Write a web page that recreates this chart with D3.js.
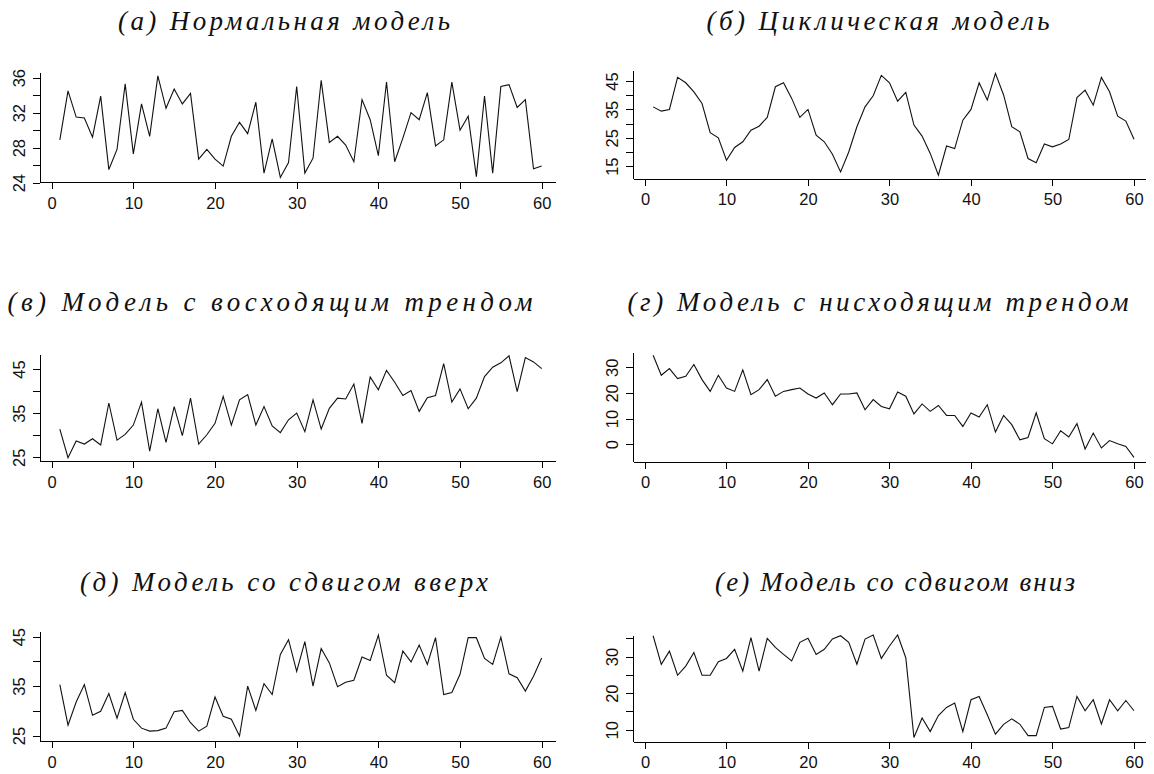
<!DOCTYPE html>
<html lang="ru">
<head>
<meta charset="utf-8">
<script src="https://cdn.jsdelivr.net/npm/d3@7"></script>
<style>
  html, body { margin: 0; padding: 0; background: #fff; }
  svg { display: block; }
  .title { font-family: "Liberation Serif", "DejaVu Serif", serif; font-style: italic; font-size: 27px; fill: #111; }
  .axis text { font-family: "Liberation Sans", Arial, sans-serif; font-size: 16.5px; fill: #111; }
  .axis path, .axis line { stroke: #000; stroke-width: 1; shape-rendering: crispEdges; }
  .series { fill: none; stroke: #111; stroke-width: 1.1; stroke-linejoin: miter; }
</style>
</head>
<body>
<svg id="chart" width="1154" height="774"></svg>
<script>
// Sixty observations per model, t = 1..60
const timeIndex = d3.range(1, 61);
const xTickValues = [0, 10, 20, 30, 40, 50, 60];

const normalModel = [28.9, 34.5, 31.5, 31.4, 29.2, 33.9, 25.5, 27.8, 35.3, 27.3,
  33.0, 29.3, 36.2, 32.5, 34.7, 33.0, 34.2, 26.7, 27.8, 26.7,
  25.9, 29.3, 30.9, 29.6, 33.2, 25.1, 29.0, 24.6, 26.3, 35.0,
  25.1, 26.8, 35.7, 28.6, 29.3, 28.3, 26.4, 33.5, 31.2, 27.1,
  35.5, 26.4, 29.1, 32.0, 31.2, 34.3, 28.2, 28.9, 35.5, 30.0,
  31.6, 24.7, 33.9, 25.1, 35.0, 35.2, 32.6, 33.5, 25.6, 25.9];

const cyclicModel = [35.9, 34.4, 35.0, 46.3, 44.4, 41.2, 37.1, 26.8, 25.0, 17.1,
  21.6, 23.6, 27.7, 29.1, 32.2, 43.0, 44.4, 38.9, 32.2, 35.0,
  25.9, 23.6, 19.2, 13.0, 20.0, 28.9, 35.9, 39.8, 47.0, 44.4,
  37.9, 41.0, 29.5, 25.6, 19.5, 11.8, 22.1, 21.2, 31.2, 35.0,
  44.4, 38.3, 47.7, 40.1, 28.9, 27.1, 17.7, 16.2, 22.8, 21.8,
  22.8, 24.4, 39.2, 41.8, 36.5, 46.3, 41.2, 32.6, 30.9, 24.5];

const upwardTrendModel = [31.4, 24.9, 28.7, 28.0, 29.2, 27.8, 37.3, 28.9, 30.2, 32.3,
  37.5, 26.4, 36.0, 28.4, 36.5, 29.9, 38.4, 28.0, 30.1, 32.7,
  38.8, 32.3, 38.0, 39.2, 32.3, 36.5, 32.1, 30.6, 33.5, 35.0,
  30.8, 38.0, 31.4, 36.1, 38.4, 38.2, 41.6, 32.7, 43.2, 40.3,
  44.7, 42.0, 39.0, 40.1, 35.4, 38.5, 39.0, 46.2, 37.5, 40.5,
  36.0, 38.4, 43.3, 45.4, 46.4, 48.0, 39.9, 47.6, 46.6, 45.1];

const downwardTrendModel = [34.7, 26.9, 29.5, 25.6, 26.5, 31.1, 25.2, 20.6, 26.9, 21.9,
  20.6, 29.0, 19.3, 21.3, 25.2, 18.7, 20.6, 21.3, 21.9, 19.6,
  18.0, 20.0, 15.4, 19.6, 19.6, 20.0, 13.4, 17.4, 14.7, 13.8,
  20.4, 18.7, 11.8, 15.7, 12.8, 15.1, 11.2, 11.2, 6.9, 12.2,
  10.6, 15.4, 4.7, 11.2, 7.6, 1.7, 2.6, 12.2, 2.1, 0.1,
  5.2, 2.8, 8.0, -1.9, 4.3, -1.5, 1.4, 0.1, -0.9, -5.2];

const upwardShiftModel = [35.3, 27.1, 31.8, 35.3, 29.1, 29.9, 33.5, 28.5, 33.7, 28.3,
  26.5, 25.9, 26.0, 26.5, 29.8, 30.1, 27.6, 25.9, 26.9, 32.8,
  28.9, 28.3, 24.9, 35.0, 30.1, 35.5, 33.3, 41.4, 44.4, 38.0,
  44.0, 35.0, 42.6, 39.7, 34.9, 35.8, 36.2, 40.9, 40.2, 45.3,
  37.2, 35.7, 42.1, 39.9, 43.3, 39.4, 44.8, 33.3, 33.7, 37.4,
  44.8, 44.8, 40.6, 39.4, 44.9, 37.5, 36.7, 34.0, 37.0, 40.7];

const downwardShiftModel = [35.7, 27.9, 31.5, 24.9, 27.4, 31.1, 24.9, 24.9, 28.6, 29.5,
  32.0, 26.0, 35.2, 26.0, 35.0, 32.5, 30.6, 28.8, 33.9, 35.0,
  30.6, 32.0, 34.8, 35.7, 33.9, 27.9, 34.8, 35.9, 29.5, 32.9,
  35.9, 29.7, 7.9, 13.2, 9.5, 13.9, 16.1, 17.3, 9.5, 18.2,
  19.1, 14.1, 8.8, 11.5, 13.0, 11.5, 8.4, 8.4, 16.1, 16.4,
  10.2, 10.6, 19.1, 15.2, 18.2, 11.6, 18.2, 15.2, 18.0, 15.2];

// Y ticks (every tick) and the subset that carries a label
const normalTicks = [24, 26, 28, 30, 32, 34, 36];
const normalLabels = [24, 28, 32, 36];
const cyclicTicks = [15, 20, 25, 30, 35, 40, 45];
const cyclicLabels = [15, 25, 35, 45];
const upwardTrendTicks = [25, 30, 35, 40, 45];
const upwardTrendLabels = [25, 35, 45];
const downwardTrendTicks = [0, 10, 20, 30];
const downwardTrendLabels = [0, 10, 20, 30];
const upwardShiftTicks = [25, 30, 35, 40, 45];
const upwardShiftLabels = [25, 35, 45];
const downwardShiftTicks = [10, 15, 20, 25, 30, 35];
const downwardShiftLabels = [10, 20, 30];

const panelTitles = [
  "(а) Нормальная модель",
  "(б) Циклическая модель",
  "(в) Модель с восходящим трендом",
  "(г) Модель с нисходящим трендом",
  "(д) Модель со сдвигом вверх",
  "(е) Модель со сдвигом вниз"
];

// Panel geometry: plot frame in pixels, the value ranges the frame spans,
// and where each caption sits (centre, baseline, set width)
const panels = [
  { title: panelTitles[0], values: normalModel, ticks: normalTicks, labels: normalLabels,
    box: { left: 40, right: 555, top: 72, bottom: 182 }, xDomain: [-1.43, 61.63], yDomain: [24.08, 36.65],
    titleX: 284, titleY: 30, titleWidth: 332 },
  { title: panelTitles[1], values: cyclicModel, ticks: cyclicTicks, labels: cyclicLabels,
    box: { left: 633, right: 1145, top: 70, bottom: 178.5 }, xDomain: [-1.47, 61.35], yDomain: [10.66, 48.9],
    titleX: 878, titleY: 30, titleWidth: 343 },
  { title: panelTitles[2], values: upwardTrendModel, ticks: upwardTrendTicks, labels: upwardTrendLabels,
    box: { left: 40, right: 555, top: 354, bottom: 461 }, xDomain: [-1.43, 61.63], yDomain: [24.16, 48.4],
    titleX: 270, titleY: 311, titleWidth: 525 },
  { title: panelTitles[3], values: downwardTrendModel, ticks: downwardTrendTicks, labels: downwardTrendLabels,
    box: { left: 633, right: 1145, top: 352, bottom: 461.5 }, xDomain: [-1.47, 61.35], yDomain: [-6.8, 36.0],
    titleX: 878, titleY: 311, titleWidth: 501 },
  { title: panelTitles[4], values: upwardShiftModel, ticks: upwardShiftTicks, labels: upwardShiftLabels,
    box: { left: 40, right: 555, top: 631, bottom: 741 }, xDomain: [-1.43, 61.63], yDomain: [23.9, 46.15],
    titleX: 284, titleY: 591, titleWidth: 408 },
  { title: panelTitles[5], values: downwardShiftModel, ticks: downwardShiftTicks, labels: downwardShiftLabels,
    box: { left: 633, right: 1145, top: 635, bottom: 741.5 }, xDomain: [-1.47, 61.35], yDomain: [6.8, 35.9],
    titleX: 895, titleY: 591, titleWidth: 360 }
];

const svg = d3.select("#chart");

panels.forEach(p => {
  const g = svg.append("g");

  const x = d3.scaleLinear().domain(p.xDomain).range([p.box.left, p.box.right]);
  const y = d3.scaleLinear().domain(p.yDomain).range([p.box.bottom, p.box.top]);

  // Caption above the panel
  g.append("text")
    .attr("class", "title")
    .attr("x", p.titleX)
    .attr("y", p.titleY)
    .attr("text-anchor", "middle")
    .attr("textLength", p.titleWidth)
    .attr("lengthAdjust", "spacing")
    .text(p.title);

  // Bottom axis
  const xAxis = d3.axisBottom(x)
    .tickValues(xTickValues)
    .tickSize(7)
    .tickSizeOuter(0)
    .tickPadding(8)
    .tickFormat(d3.format("d"));
  g.append("g")
    .attr("class", "axis")
    .attr("transform", `translate(0,${p.box.bottom})`)
    .call(xAxis);

  // Left axis with rotated labels
  const labelSet = new Set(p.labels);
  const yAxis = d3.axisLeft(y)
    .tickValues(p.ticks)
    .tickSize(7)
    .tickSizeOuter(0)
    .tickFormat(d => labelSet.has(d) ? d3.format("d")(d) : "");
  const yg = g.append("g")
    .attr("class", "axis")
    .attr("transform", `translate(${p.box.left},0)`)
    .call(yAxis);
  yg.selectAll(".tick text")
    .attr("transform", "rotate(-90)")
    .attr("x", 0)
    .attr("y", -15.5)
    .attr("dy", 0)
    .attr("text-anchor", "middle");

  // Series line
  const line = d3.line()
    .x((d, i) => x(timeIndex[i]))
    .y(d => y(d));
  g.append("path")
    .attr("class", "series")
    .attr("d", line(p.values));
});
</script>
</body>
</html>
